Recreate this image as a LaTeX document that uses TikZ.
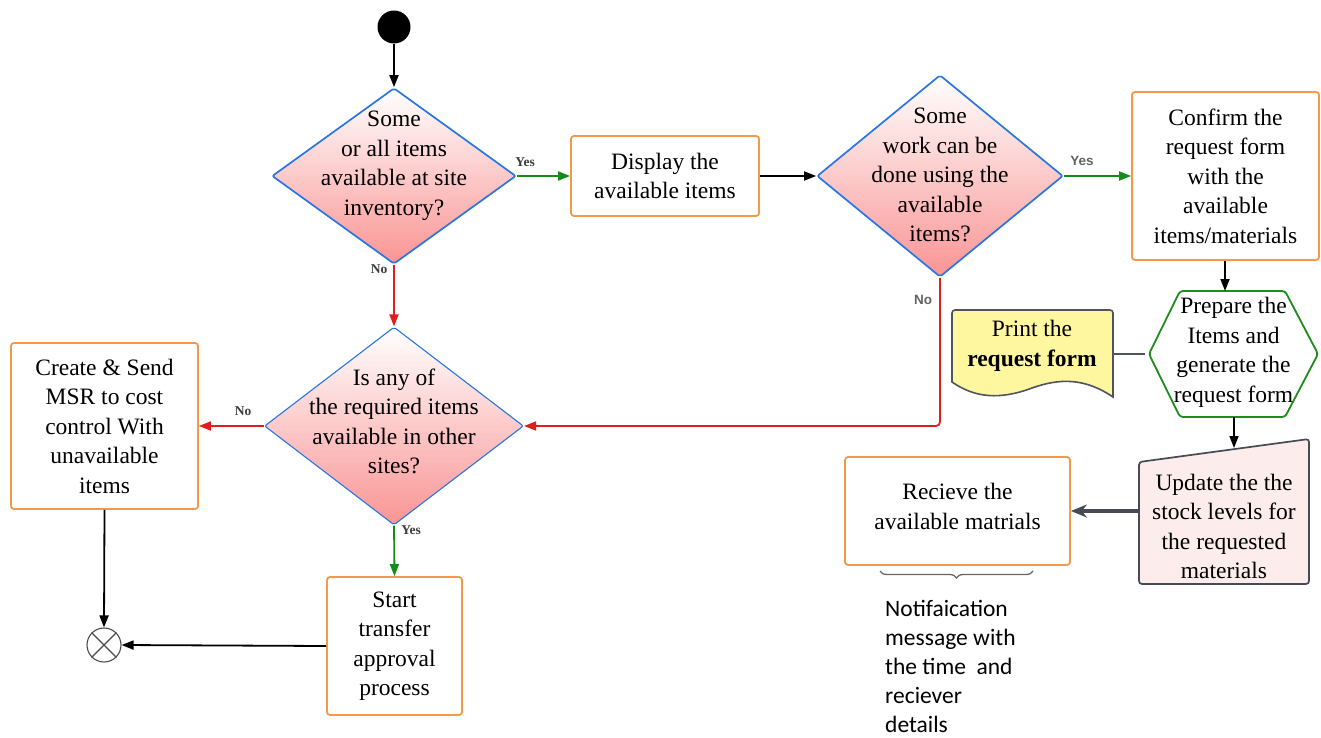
\documentclass[tikz,border=0pt]{standalone}
\usepackage{fontspec}
\setmainfont{Liberation Serif}
\newfontfamily\labelsans{Liberation Sans}
\newfontfamily\notefont{Carlito}
\usetikzlibrary{arrows.meta,shapes.geometric,decorations.pathreplacing,calc}

\definecolor{boxorange}{RGB}{247,152,72}
\definecolor{decblue}{RGB}{40,118,225}
\definecolor{decpink}{RGB}{250,148,148}
\definecolor{yesgreen}{RGB}{20,140,25}
\definecolor{nored}{RGB}{225,30,30}
\definecolor{hexgreen}{RGB}{30,140,30}
\definecolor{docyellow}{RGB}{255,246,160}
\definecolor{docgray}{RGB}{80,84,92}
\definecolor{updfill}{RGB}{252,236,236}
\definecolor{updgray}{RGB}{70,75,85}
\definecolor{lblgray}{RGB}{60,60,60}

\tikzset{
  maintext/.style={align=center, font=\fontsize{23.5}{29.5}\selectfont},
  flowbox/.style={draw=boxorange, line width=1.8pt, rounded corners=3pt, fill=white,
    inner sep=0pt, maintext},
  decision/.style={diamond, draw=decblue, line width=1.7pt, rounded corners=2pt,
    top color=white, bottom color=decpink, inner sep=0pt},
  arr/.style={-{Triangle[length=12pt,width=9pt]}, line width=1.8pt},
  lblserif/.style={font=\fontsize{13.5}{15}\selectfont\bfseries, text=lblgray, inner sep=0pt},
  lblsans/.style={font=\labelsans\fontsize{13.5}{15}\selectfont\bfseries, text=lblgray!80!white, inner sep=0pt},
}

\begin{document}
\begin{tikzpicture}[x=1pt,y=-1pt]
\useasboundingbox[fill=white] (0,0) rectangle (1321,738);

% start and end markers
\node[circle, fill=black, minimum size=33pt, inner sep=0pt] (start) at (394,27) {};
\node[circle, draw=black!70, line width=1.1pt, minimum size=34pt, inner sep=0pt] (finish) at (104,645) {};
\draw[black!70, line width=1.1pt] (finish.north east) -- (finish.south west)
  (finish.north west) -- (finish.south east);

% decisions
\node[decision, minimum width=244pt, minimum height=176pt] (d1) at (394,176) {};
\node[maintext] (d1t) at (394,166) {Some\\or all items\\available at site\\inventory?};
\node[decision, minimum width=246pt, minimum height=202pt] (d2) at (940,176) {};
\node[maintext] (d2t) at (940,175) {Some\\work can be\\done using the\\available\\items?};
\node[decision, line width=1.1pt, minimum width=259pt, minimum height=198pt] (d3) at (394,426) {};
\node[maintext] (d3t) at (394,421.5) {Is any of\\the required items\\available in other\\sites?};

% process boxes
\node[flowbox, minimum width=188pt, minimum height=80pt] (display) at (665,176) {Display the\\available items};
\node[flowbox, minimum width=187pt, minimum height=168pt] (confirm) at (1225.5,176)
  {Confirm the\\request form\\with the\\available\\items/materials};
\node[flowbox, minimum width=187pt, minimum height=166pt] (create) at (104.5,426)
  {Create \& Send\\MSR to cost\\control With\\unavailable\\items};
\node[flowbox, minimum width=135pt, minimum height=138pt] (transfer) at (394.5,646)
  {Start\\transfer\\approval\\process};
\node[flowbox, minimum width=225pt, minimum height=108pt] (recv) at (957.5,511) {};
\node[maintext] (recvt) at (957.5,506.5) {Recieve the\\available matrials};

% hexagon: prepare items
\draw[draw=hexgreen, line width=1.8pt, fill=white, rounded corners=3pt]
  (1149,354) -- (1180,291) -- (1285,291) -- (1318,354) -- (1285,417) -- (1180,417) -- cycle;
\coordinate (hexN) at (1225,291);
\coordinate (hexS) at (1234,417);
\coordinate (hexW) at (1145,354);
\node[maintext] (prep) at (1233.5,352.5) {Prepare the\\Items and\\generate the\\request form};

% document: print request form
\draw[draw=docgray, line width=1.6pt, fill=docyellow]
  (952,382) [rounded corners=3pt] -- (952,310) -- (1113,310) [sharp corners] -- (1113,397)
  .. controls (1085,378) and (1060,378) .. (1032,388)
  .. controls (1000,400) and (975,398) .. (952,382) -- cycle;
\coordinate (docE) at (1113,354);
\node[maintext] (print) at (1032,346) {Print the\\\textbf{request form}};

% manual operation: update stock levels
\draw[draw=updgray, line width=1.7pt, fill=updfill, rounded corners=3pt]
  (1139,462) -- (1309,439) -- (1309,584) -- (1139,584) -- cycle;
\coordinate (updN) at (1234,448);
\coordinate (updW) at (1139,511);
\node[maintext] (update) at (1224,526.5) {Update the the\\stock levels for\\the requested\\materials};

% brace and notification note
\coordinate (brL) at (880,571);
\coordinate (brR) at (1033,571);
\draw[black!60, line width=1.3pt, decorate, decoration={brace, mirror, amplitude=7pt}] (brL) -- (brR);
\node[anchor=west, align=left, inner sep=0pt, font=\notefont\fontsize{23.5}{29}\selectfont] (note) at (885,666)
  {Notifaication\\message with\\the time~ and\\reciever\\details};

% connectors
\draw[arr] (start) -- (d1.north);
\draw[arr, yesgreen] (d1.east) -- (display.west);
\draw[arr] (display.east) -- (d2.west);
\draw[arr, yesgreen] (d2.east) -- (confirm.west);
\draw[arr] (confirm.south -| hexN) -- (hexN);
\draw[docgray, line width=1.8pt] (docE) -- (hexW);
\draw[arr] (hexS) -- (updN);
\draw[-{Stealth[length=16pt,width=13pt]}, updgray, line width=3.5pt] (updW) -- (recv.east);
\draw[arr, nored] (d1.south) -- (d3.north);
\draw[arr, nored, rounded corners=4pt] (d2.south) |- (d3.east);
\draw[arr, nored] (d3.west) -- (create.east);
\draw[arr, yesgreen] (d3.south) -- (transfer.north);
\draw[arr] (create.south) -- (finish.north);
\draw[arr] (transfer.west) -- (finish.east);

% branch labels
\node[lblserif] (y1) at (525,162) {Yes};
\node[lblserif] (n1) at (379,269) {No};
\node[lblsans] (y2) at (1082,161) {Yes};
\node[lblsans] (n2) at (923,300) {No};
\node[lblserif] (n3) at (243,411) {No};
\node[lblserif] (y3) at (411,530) {Yes};
\end{tikzpicture}
\end{document}
